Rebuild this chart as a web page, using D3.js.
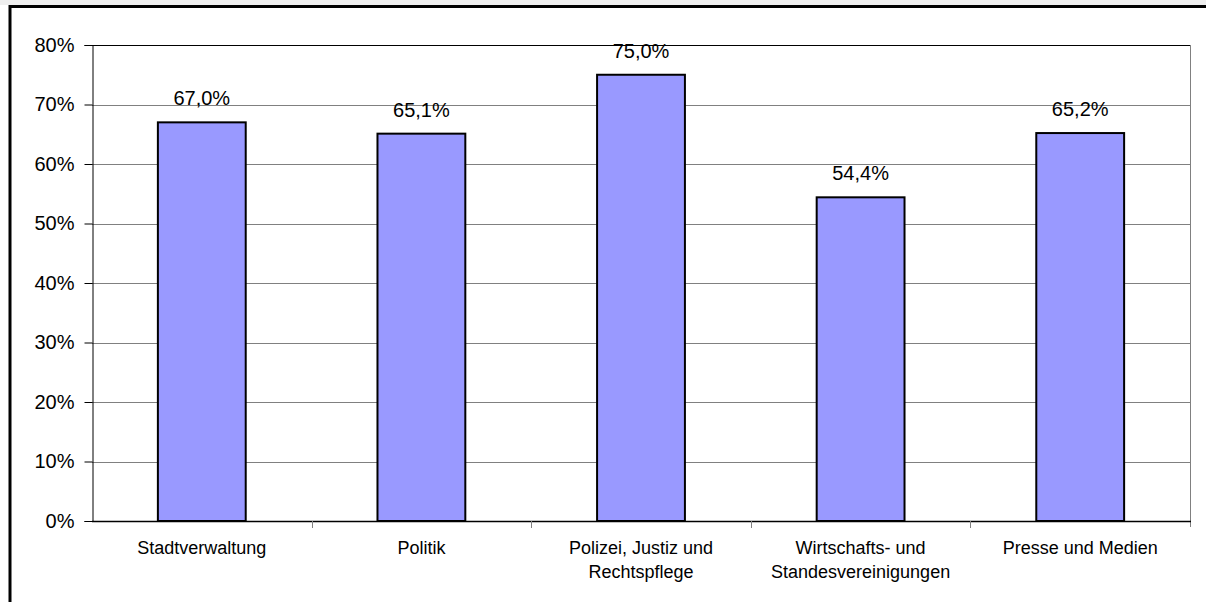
<!DOCTYPE html>
<html>
<head>
<meta charset="utf-8">
<script src="https://cdn.jsdelivr.net/npm/d3@7"></script>
<style>
html,body{margin:0;padding:0;background:#fff;}
svg{display:block;font-family:"Liberation Sans",Arial,sans-serif;}
</style>
</head>
<body>
<svg id="chart" width="1206" height="602"></svg>
<script>
const categories = ["Stadtverwaltung", "Politik", "Polizei, Justiz und\nRechtspflege", "Wirtschafts- und\nStandesvereinigungen", "Presse und Medien"];
const values = [67.0, 65.1, 75.0, 54.4, 65.2];
const valueLabels = ["67,0%", "65,1%", "75,0%", "54,4%", "65,2%"];
const yTicks = [0, 10, 20, 30, 40, 50, 60, 70, 80];

(function () {
const svg = d3.select("#chart");
const pLeft = 92, pRight = 1190, pTop = 45, pBottom = 521;

// light strip at top & outer frame
svg.append("rect").attr("x", 0).attr("y", 0).attr("width", 1206).attr("height", 5).attr("fill", "#eeeeee");
svg.append("rect").attr("x", 10).attr("y", 6.5).attr("width", 1250).attr("height", 700)
  .attr("fill", "none").attr("stroke", "#000").attr("stroke-width", 3);

const x = d3.scaleBand().domain(categories).range([pLeft, pRight]).paddingInner(0.6).paddingOuter(0.3);
const y = d3.scaleLinear().domain([0, 80]).range([pBottom, pTop]);

// gridlines
svg.append("g").selectAll("line").data(yTicks.filter(d => d > 0)).join("line")
  .attr("x1", pLeft).attr("x2", pRight)
  .attr("y1", d => Math.round(y(d)) + 0.5).attr("y2", d => Math.round(y(d)) + 0.5)
  .attr("stroke", d => d === 80 ? "#000" : "#808080").attr("stroke-width", 1);

// right border
svg.append("line").attr("x1", pRight + 0.5).attr("x2", pRight + 0.5).attr("y1", pTop).attr("y2", pBottom + 6)
  .attr("stroke", "#808080");

// bars
svg.append("g").selectAll("rect").data(values).join("rect")
  .attr("x", (d, i) => x(categories[i]))
  .attr("y", d => y(d))
  .attr("width", x.bandwidth())
  .attr("height", d => y(0) - y(d))
  .attr("fill", "#9999FF").attr("stroke", "#000").attr("stroke-width", 2);

// value labels
svg.append("g").selectAll("text").data(values).join("text")
  .attr("x", (d, i) => x(categories[i]) + x.bandwidth() / 2)
  .attr("y", d => y(d) - 17)
  .attr("text-anchor", "middle").attr("font-size", 20).attr("fill", "#000")
  .text((d, i) => valueLabels[i]);

// y axis
const yAxis = d3.axisLeft(y).tickValues(yTicks).tickFormat(d => d + "%").tickSize(8).tickPadding(10);
const gy = svg.append("g").attr("transform", `translate(${pLeft + 0.5},0)`).call(yAxis);
gy.select(".domain").attr("stroke", "#000");
gy.selectAll(".tick line").attr("stroke", "#000");
gy.selectAll("text").attr("font-size", 20).attr("font-family", '"Liberation Sans",Arial,sans-serif').attr("fill", "#000");

// x axis line and ticks
svg.append("line").attr("x1", pLeft).attr("x2", pRight + 1).attr("y1", pBottom + 0.5).attr("y2", pBottom + 0.5)
  .attr("stroke", "#000").attr("stroke-width", 1.5);
const boundaries = d3.range(categories.length + 1).map(i => pLeft + i * x.step());
svg.append("g").selectAll("line").data(boundaries.slice(1, -1)).join("line")
  .attr("x1", d => Math.round(d) + 0.5).attr("x2", d => Math.round(d) + 0.5)
  .attr("y1", pBottom).attr("y2", pBottom + 7)
  .attr("stroke", "#808080");

// category labels
const cl = svg.append("g").selectAll("text").data(categories).join("text")
  .attr("x", d => x(d) + x.bandwidth() / 2)
  .attr("y", 554)
  .attr("text-anchor", "middle").attr("font-size", 18).attr("fill", "#000");
cl.each(function (d) {
  const t = d3.select(this);
  d.split("\n").forEach((line, i) => {
    t.append("tspan").attr("x", t.attr("x")).attr("dy", i === 0 ? 0 : 24).text(line);
  });
});
})();
</script>
</body>
</html>
